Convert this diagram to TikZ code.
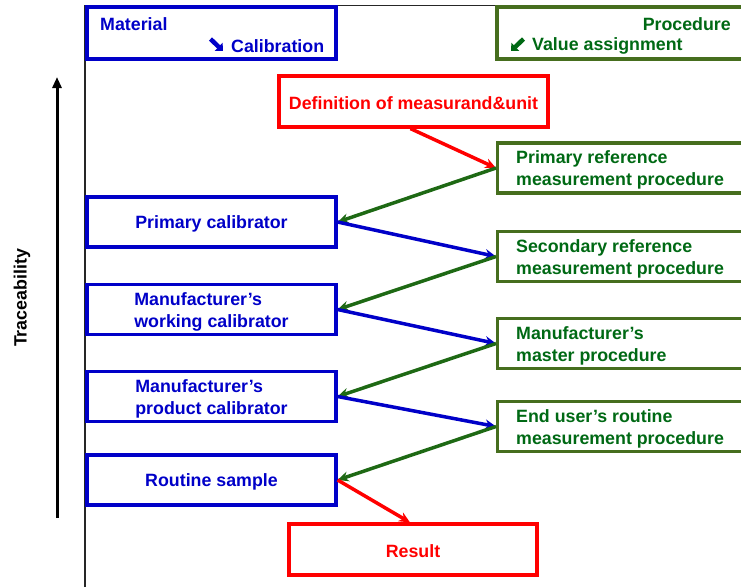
\documentclass[tikz,border=0pt]{standalone}
\usepackage{fontspec}
\setmainfont{Liberation Sans}
\usetikzlibrary{arrows.meta}
\definecolor{cblue}{RGB}{0,0,200}
\definecolor{bgreen}{RGB}{70,110,30}
\definecolor{tgreen}{RGB}{0,105,20}
\definecolor{agreen}{RGB}{30,105,20}
\definecolor{cred}{RGB}{255,0,0}
\tikzset{
  txt/.style={font=\fontsize{17.8}{22}\selectfont\bfseries, inner sep=0pt, align=left},
  matbox/.style={draw=cblue, line width=3.2pt, minimum width=249pt, minimum height=50pt, inner sep=0pt},
  mattxt/.style={txt, text=cblue},
  procbox/.style={draw=bgreen, line width=3.2pt, minimum height=50pt, minimum width=264pt, inner sep=0pt, anchor=west},
  proctxt/.style={txt, text=tgreen, anchor=west},
  redbox/.style={draw=cred, line width=3.2pt, inner sep=0pt},
  redtxt/.style={txt, text=cred},
  barr/.style={draw=cblue, line width=3.5pt, -{Stealth[length=11pt,width=10pt]}},
  garr/.style={draw=agreen, line width=3.5pt, -{Stealth[length=11pt,width=10pt]}},
  rarr/.style={draw=cred, line width=3.5pt, -{Stealth[length=11pt,width=10pt]}},
}
\begin{document}
\begin{tikzpicture}[x=1pt,y=-1pt]
\useasboundingbox (0,0) rectangle (741,587);
% frame
\draw[black!85, line width=1.2pt] (85,587) -- (85,5.5) -- (760,5.5);
% header boxes
\draw[cblue, line width=3.2pt] (87,7) rectangle (336,59);
\node[mattxt, anchor=west] (mat) at (100,24) {Material};
\node[mattxt, anchor=west] (cal) at (231,46) {Calibration};
\coordinate (se1) at (210.5,39);
\coordinate (se2) at (223,51);
\draw[cblue, line width=4.5pt, -{Triangle[length=6pt,width=11pt]}] (se1) -- (se2);
\draw[bgreen, line width=3.2pt] (497,7) rectangle (760,59);
\node[proctxt, anchor=east] (proc) at (731,24) {Procedure};
\node[proctxt] (va) at (532,46) {Value assignment};
\coordinate (sw1) at (523.5,39);
\coordinate (sw2) at (511,51);
\draw[tgreen, line width=4.5pt, -{Triangle[length=6pt,width=11pt]}] (sw1) -- (sw2);
% red boxes
\node[redbox, minimum width=269pt, minimum height=51pt] (def) at (413.5,101.5) {};
\node[redtxt] (deft) at ([yshift=-1.5pt]def.center) {Definition of measurand\&unit};
\node[redbox, minimum width=248pt, minimum height=51pt] (res) at (413,549.5) {};
\node[redtxt] (rest) at ([yshift=-1.5pt]res.center) {Result};
% left boxes
\node[matbox] (pcal) at (211.5,222) {};
\node[mattxt] (pcalt) at ([yshift=-2pt]pcal.center) {Primary calibrator};
\node[matbox] (wcal) at (211.5,309.5) {};
\node[mattxt] (wcalt) at ([yshift=-2pt]wcal.center) {Manufacturer’s\\working calibrator};
\node[matbox] (prcal) at (211.5,396.5) {};
\node[mattxt] (prcalt) at ([yshift=-2pt]prcal.center) {Manufacturer’s\\product calibrator};
\node[matbox] (rs) at (211.5,480) {};
\node[mattxt] (rst) at ([yshift=-2pt]rs.center) {Routine sample};
% right boxes
\node[procbox] (pref) at (496,168) {};
\node[proctxt] (preft) at ([xshift=20pt,yshift=-2pt]pref.west) {Primary reference\\measurement procedure};
\node[procbox] (sref) at (496,256.5) {};
\node[proctxt] (sreft) at ([xshift=20pt,yshift=-2pt]sref.west) {Secondary reference\\measurement procedure};
\node[procbox] (mast) at (496,343.5) {};
\node[proctxt] (mastt) at ([xshift=20pt,yshift=-2pt]mast.west) {Manufacturer’s\\master procedure};
\node[procbox] (eu) at (496,426.5) {};
\node[proctxt] (eut) at ([xshift=20pt,yshift=-2pt]eu.west) {End user’s routine\\measurement procedure};
% connectors
\draw[rarr] ([xshift=-3pt]def.south) -- (pref.west);
\draw[garr] (pref.west) -- (pcal.east);
\draw[barr] (pcal.east) -- (sref.west);
\draw[garr] (sref.west) -- (wcal.east);
\draw[barr] (wcal.east) -- (mast.west);
\draw[garr] (mast.west) -- (prcal.east);
\draw[barr] (prcal.east) -- (eu.west);
\draw[garr] (eu.west) -- (rs.east);
\draw[rarr] (rs.east) -- ([xshift=-3pt]res.north);
% traceability
\coordinate (tb) at (57,518);
\coordinate (tt) at (57,77);
\draw[black, line width=3pt, -{Triangle[length=11pt,width=9pt]}] (tb) -- (tt);
\node[txt, rotate=90, text=black] (trace) at (22,298) {Traceability};
\end{tikzpicture}
\end{document}
